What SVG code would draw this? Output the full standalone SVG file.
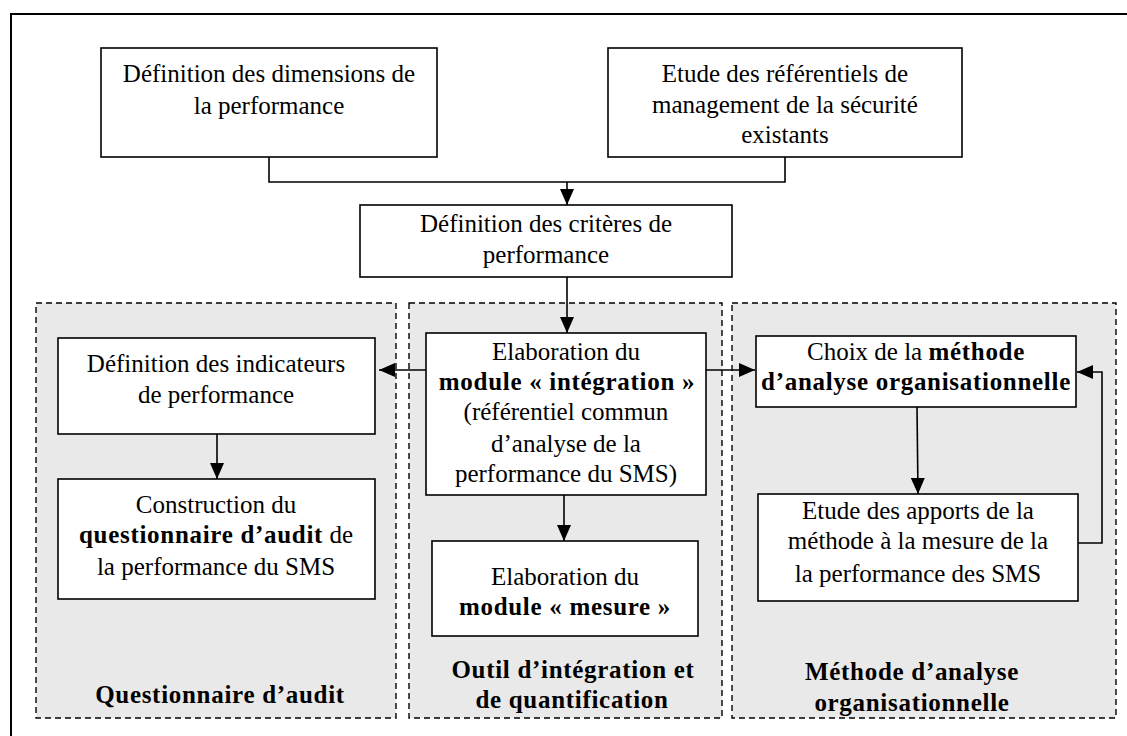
<svg xmlns="http://www.w3.org/2000/svg" width="1127" height="736" viewBox="0 0 1127 736">
<defs>
<marker id="ah" markerUnits="userSpaceOnUse" markerWidth="16" markerHeight="14" refX="16" refY="7" orient="auto">
<path d="M0,0 L16,7 L0,14 z" fill="#000"/>
</marker>
<style>
.box{fill:#fff;stroke:#000;stroke-width:1.6}
.grp{fill:#e9e9e9;stroke:#000;stroke-width:1.4;stroke-dasharray:6 4}
.t{font-family:"Liberation Serif","Times New Roman",serif;font-size:25px;fill:#000;text-anchor:middle}
.b{font-weight:bold;letter-spacing:0.7px}
.c{fill:none;stroke:#000;stroke-width:1.6}
</style>
</defs>
<rect width="1127" height="736" fill="#fff"/>
<path d="M11,740 V14 H1130" fill="none" stroke="#000" stroke-width="2"/>

<g id="group-questionnaire">
<rect class="grp" x="36" y="303" width="360" height="415"/>
<text class="t b" x="220" y="703">Questionnaire d’audit</text>
</g>
<g id="group-outil">
<rect class="grp" x="409" y="303" width="313" height="415"/>
<text class="t b" x="573" y="678">Outil d’intégration et</text>
<text class="t b" x="572" y="708">de quantification</text>
</g>
<g id="group-methode">
<rect class="grp" x="732" y="303" width="384" height="415"/>
<text class="t b" x="912" y="680">Méthode d’analyse</text>
<text class="t b" x="912" y="711">organisationnelle</text>
</g>

<g id="n-dimensions">
<rect class="box" x="101" y="48" width="336" height="109"/>
<text class="t" x="269" y="82">Définition des dimensions de</text>
<text class="t" x="269" y="114">la performance</text>
</g>
<g id="n-referentiels">
<rect class="box" x="608" y="48" width="354" height="109"/>
<text class="t" x="785" y="82">Etude des référentiels de</text>
<text class="t" x="785" y="113">management de la sécurité</text>
<text class="t" x="785" y="143">existants</text>
</g>
<g id="n-criteres">
<rect class="box" x="360" y="205" width="372" height="72"/>
<text class="t" x="546" y="232">Définition des critères de</text>
<text class="t" x="546" y="263">performance</text>
</g>
<g id="n-indicateurs">
<rect class="box" x="58" y="338" width="317" height="96"/>
<text class="t" x="216" y="372">Définition des indicateurs</text>
<text class="t" x="216" y="403">de performance</text>
</g>
<g id="n-questionnaire">
<rect class="box" x="58" y="479" width="317" height="120"/>
<text class="t" x="216" y="513">Construction du</text>
<text class="t" x="216" y="543"><tspan class="b">questionnaire d’audit</tspan> de</text>
<text class="t" x="216" y="575">la performance du SMS</text>
</g>
<g id="n-integration">
<rect class="box" x="426" y="333" width="280" height="162"/>
<text class="t" x="566" y="360">Elaboration du</text>
<text class="t b" x="567" y="390">module « intégration »</text>
<text class="t" x="566" y="420">(référentiel commun</text>
<text class="t" x="566" y="452">d’analyse de la</text>
<text class="t" x="566" y="482">performance du SMS)</text>
</g>
<g id="n-mesure">
<rect class="box" x="432" y="541" width="266" height="95"/>
<text class="t" x="565" y="585">Elaboration du</text>
<text class="t b" x="565" y="615">module « mesure »</text>
</g>
<g id="n-choix">
<rect class="box" x="756" y="336" width="320" height="71"/>
<text class="t" x="916" y="360">Choix de la <tspan class="b">méthode</tspan></text>
<text class="t b" x="916" y="390">d’analyse organisationnelle</text>
</g>
<g id="n-apports">
<rect class="box" x="758" y="494" width="320" height="107"/>
<text class="t" x="918" y="519">Etude des apports de la</text>
<text class="t" x="918" y="549">méthode à la mesure de la</text>
<text class="t" x="918" y="582">la performance des SMS</text>
</g>

<g id="connectors">
<path class="c" d="M269,157 V182 H785 V157"/>
<path class="c" d="M567,182 V205" marker-end="url(#ah)"/>
<path class="c" d="M567,277 V333" marker-end="url(#ah)"/>
<path class="c" d="M426,370 H379" marker-end="url(#ah)"/>
<path class="c" d="M706,370 H755" marker-end="url(#ah)"/>
<path class="c" d="M217,434 V479" marker-end="url(#ah)"/>
<path class="c" d="M564,495 V541" marker-end="url(#ah)"/>
<path class="c" d="M917,407 L918,494" marker-end="url(#ah)"/>
<path class="c" d="M1078,543 H1102 V372 H1077" marker-end="url(#ah)"/>
</g>
</svg>
